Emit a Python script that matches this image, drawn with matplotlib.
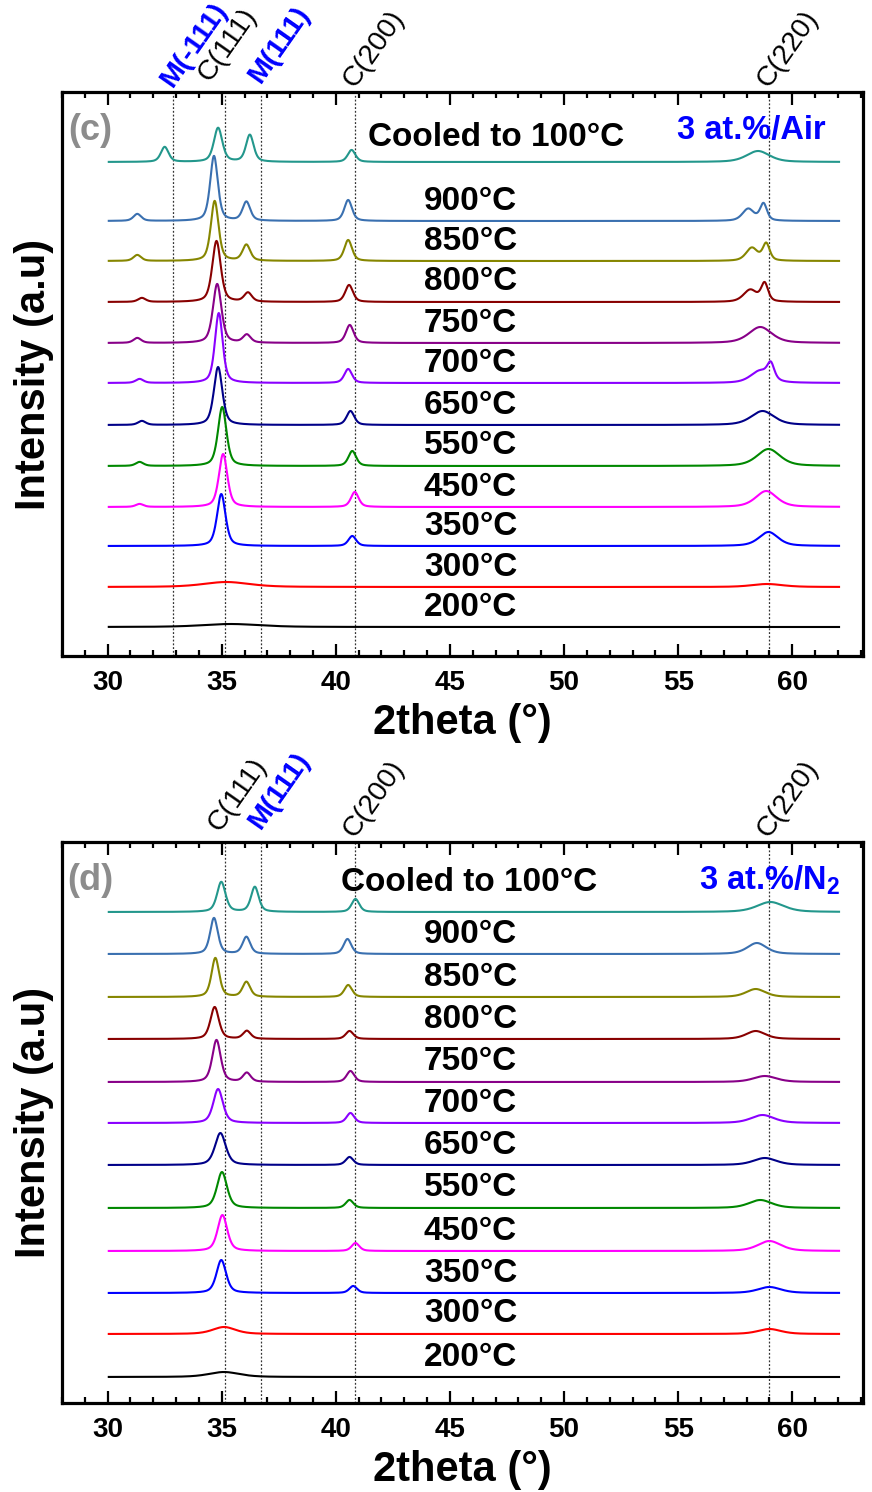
import numpy as np
import matplotlib
matplotlib.use("Agg")
import matplotlib.pyplot as plt
from matplotlib.ticker import MultipleLocator

plt.rcParams['font.family'] = ['Liberation Sans', 'DejaVu Sans']
plt.rcParams['mathtext.fontset'] = 'custom'
plt.rcParams['mathtext.rm'] = 'Liberation Sans:bold'
plt.rcParams['mathtext.it'] = 'Liberation Sans:bold'
plt.rcParams['mathtext.bf'] = 'Liberation Sans:bold'

# ---------------- data ----------------
labels = ["Cooled to 100°C", "900°C", "850°C", "800°C", "750°C", "700°C",
          "650°C", "550°C", "450°C", "350°C", "300°C", "200°C"]
colors = ['#23978c', '#3a70b0', '#868600', '#880000', '#880088', '#8a00ff',
          '#000088', '#008800', '#ff00ff', '#0000ff', '#ff0000', '#000000']

# panel (c) : 3 at.%/Air
offset_c = [494, 435, 395, 354, 313, 273, 231, 190, 149, 110, 69, 29]
main_pos_c = [34.84, 34.66, 34.69, 34.77, 34.80, 34.87, 34.84, 35.02, 35.06, 34.98, 35.2, 35.4]
main_h_c = [34, 65, 60, 61, 59, 70, 58, 59, 53, 52, 5, 3]
main_w_c = [0.22, 0.20, 0.20, 0.22, 0.22, 0.20, 0.22, 0.22, 0.22, 0.22, 1.2, 1.5]
m111_pos_c = [36.23, 36.08, 36.08, 36.15, 36.10, 36.1, 36.1, 36.1, 36.1, 36.1, 36.1, 36.1]
m111_h_c = [27, 19, 16, 9, 8, 0, 0, 0, 0, 0, 0, 0]
mm111_pos_c = [32.5, 31.3, 31.3, 31.5, 31.3, 31.4, 31.5, 31.4, 31.4, 31.4, 31.4, 31.4]
mm111_h_c = [15, 7, 6, 4, 5, 4, 4, 4, 3, 0, 0, 0]
c200_pos_c = [40.69, 40.54, 40.54, 40.58, 40.61, 40.54, 40.64, 40.72, 40.83, 40.72, 40.8, 40.8]
c200_h_c = [12, 21, 21, 17, 18, 14, 14, 15, 15, 10, 0, 0]
c220a_pos_c = [58.5, 58.07, 58.23, 58.16, 58.6, 58.6, 58.7, 58.96, 58.86, 58.96, 58.9, 59.0]
c220a_h_c = [11, 12, 13, 12, 16, 12, 14, 17, 16, 14, 3, 0]
c220a_w_c = [0.6, 0.3, 0.3, 0.35, 0.6, 0.5, 0.6, 0.6, 0.55, 0.5, 0.8, 0.5]
c220b_pos_c = [59.0, 58.74, 58.86, 58.79, 59.0, 59.06, 59.0, 59.0, 59.0, 59.0, 59.0, 59.0]
c220b_h_c = [0, 17, 17, 18, 0, 15, 0, 0, 0, 0, 0, 0]

# panel (d) : 3 at.%/N2
offset_d = [491, 449, 406, 364, 321, 280, 238, 195, 152, 110, 69, 26]
main_pos_d = [34.98, 34.66, 34.72, 34.69, 34.77, 34.84, 34.94, 35.01, 35.03, 34.98, 35.1, 35.1]
main_h_d = [30, 36, 39, 32, 42, 34, 32, 36, 36, 33, 7, 5]
main_w_d = [0.22, 0.20, 0.20, 0.22, 0.22, 0.25, 0.28, 0.26, 0.25, 0.25, 0.6, 0.8]
m111_pos_d = [36.45, 36.08, 36.08, 36.10, 36.10, 36.1, 36.1, 36.1, 36.1, 36.1, 36.1, 36.1]
m111_h_d = [25, 17, 15, 8, 9, 0, 0, 0, 0, 0, 0, 0]
c200_pos_d = [40.86, 40.51, 40.54, 40.60, 40.64, 40.64, 40.60, 40.60, 40.86, 40.76, 40.8, 40.8]
c200_h_d = [13, 15, 12, 8, 11, 10, 8, 8, 8, 7, 0, 0]
c220_pos_d = [59.04, 58.45, 58.4, 58.4, 58.8, 58.7, 58.8, 58.6, 59.0, 59.0, 59.0, 59.0]
c220_h_d = [10, 11, 8, 8, 6, 8, 7, 8, 10, 6, 5, 0]
c220_w_d = [0.7, 0.5, 0.5, 0.5, 0.6, 0.6, 0.6, 0.6, 0.6, 0.6, 0.6, 0.6]

# reference reflections
ref_names_c = ["M(-111)", "C(111)", "M(111)", "C(200)", "C(220)"]
ref_pos_c = [32.85, 35.13, 36.74, 40.85, 59.0]
ref_names_d = ["C(111)", "M(111)", "C(200)", "C(220)"]
ref_pos_d = [35.13, 36.74, 40.85, 59.0]

xticks = [30, 35, 40, 45, 50, 55, 60]

two_theta = np.linspace(30.05, 62.05, 1601)


def pv(x, c, h, w):
    if h == 0:
        return np.zeros_like(x)
    u = ((x - c) / w) ** 2
    return h * (0.5 / (1 + u) + 0.5 * np.exp(-np.log(2) * u))


def panel_c_curve(i):
    y = np.full_like(two_theta, offset_c[i], dtype=float)
    y += pv(two_theta, main_pos_c[i], main_h_c[i], main_w_c[i])
    y += pv(two_theta, m111_pos_c[i], m111_h_c[i], 0.2)
    y += pv(two_theta, mm111_pos_c[i], mm111_h_c[i], 0.2)
    y += pv(two_theta, c200_pos_c[i], c200_h_c[i], 0.2)
    y += pv(two_theta, c220a_pos_c[i], c220a_h_c[i], c220a_w_c[i])
    y += pv(two_theta, c220b_pos_c[i], c220b_h_c[i], 0.18)
    return y


def panel_d_curve(i):
    y = np.full_like(two_theta, offset_d[i], dtype=float)
    y += pv(two_theta, main_pos_d[i], main_h_d[i], main_w_d[i])
    y += pv(two_theta, m111_pos_d[i], m111_h_d[i], 0.2)
    y += pv(two_theta, c200_pos_d[i], c200_h_d[i], 0.2)
    y += pv(two_theta, c220_pos_d[i], c220_h_d[i], c220_w_d[i])
    return y


fig = plt.figure(figsize=(8.72, 14.92), dpi=100)
ax_c = fig.add_axes([62 / 872, 1 - 656 / 1492, 801 / 872, 564 / 1492])
ax_d = fig.add_axes([62 / 872, 1 - 1403 / 1492, 801 / 872, 561 / 1492])


def style_axes(ax, ytop):
    ax.set_xlim(28.0, 63.1)
    ax.set_ylim(0, ytop)
    ax.set_yticks([])
    ax.set_xticks(xticks)
    ax.xaxis.set_minor_locator(MultipleLocator(1))
    ax.tick_params(axis='x', which='both', direction='in', top=True, bottom=True,
                   labelsize=20, pad=10)
    ax.tick_params(axis='x', which='major', length=9, width=1.6)
    ax.tick_params(axis='x', which='minor', length=4.5, width=1.6)
    for lab in ax.get_xticklabels():
        lab.set_fontweight('bold')
    for sp in ax.spines.values():
        sp.set_linewidth(2.3)
    ax.set_xlabel("2theta (°)", fontsize=30, fontweight='bold', labelpad=5)
    ax.set_ylabel("Intensity (a.u)", fontsize=30, fontweight='bold', labelpad=6)


def ref_labels(ax, names, pos, cols, shifts):
    for n, p, c, (dx, dy) in zip(names, pos, cols, shifts):
        ax.axvline(p, color='#333333', lw=0.9, ls=(0, (1.5, 1.5)), zorder=1)
        ax.annotate(n, xy=(p, 1.0), xycoords=('data', 'axes fraction'),
                    xytext=(dx, dy), textcoords='offset points',
                    rotation=55, rotation_mode='anchor', ha='left', va='bottom',
                    fontsize=20.5, color=c,
                    fontweight='bold' if c != 'black' else 'normal',
                    annotation_clip=False)


# ---- panel (c)
style_axes(ax_c, 564)
for i in range(len(labels)):
    ax_c.plot(two_theta, panel_c_curve(i), color=colors[i], lw=1.5, zorder=3)
for i in range(1, len(labels)):
    ax_c.text(45.9, offset_c[i] + 20, labels[i], fontsize=24, fontweight='bold',
              ha='center', va='center', zorder=4)
ax_c.text(47.0, offset_c[0] + 25, labels[0], fontsize=24, fontweight='bold',
          ha='center', va='center', zorder=4)
ax_c.text(29.23, 526, "(c)", fontsize=26, fontweight='bold', color='#8c8c8c',
          ha='center', va='center')
ax_c.text(58.2, 526, "3 at.%/Air", fontsize=23.5, fontweight='bold', color='#0000ff',
          ha='center', va='center')
ref_labels(ax_c, ref_names_c, ref_pos_c,
           ['#0000ff', 'black', '#0000ff', 'black', 'black'],
           [(3, 0), (-7, 4), (3, 3), (3, 0), (3, 0)])

# ---- panel (d)
style_axes(ax_d, 561)
for i in range(len(labels)):
    ax_d.plot(two_theta, panel_d_curve(i), color=colors[i], lw=1.5, zorder=3)
for i in range(1, len(labels)):
    ax_d.text(45.9, offset_d[i] + 20, labels[i], fontsize=24, fontweight='bold',
              ha='center', va='center', zorder=4)
ax_d.text(45.85, offset_d[0] + 30, labels[0], fontsize=24, fontweight='bold',
          ha='center', va='center', zorder=4)
ax_d.text(29.23, 523, "(d)", fontsize=26, fontweight='bold', color='#8c8c8c',
          ha='center', va='center')
ax_d.text(59.0, 523, "3 at.%/N$_2$", fontsize=23.5, fontweight='bold', color='#0000ff',
          ha='center', va='center')
ref_labels(ax_d, ref_names_d, ref_pos_d,
           ['black', '#0000ff', 'black', 'black'],
           [(0, 4), (3, 6), (3, 0), (3, 0)])

fig.savefig("out.png", dpi=100)
